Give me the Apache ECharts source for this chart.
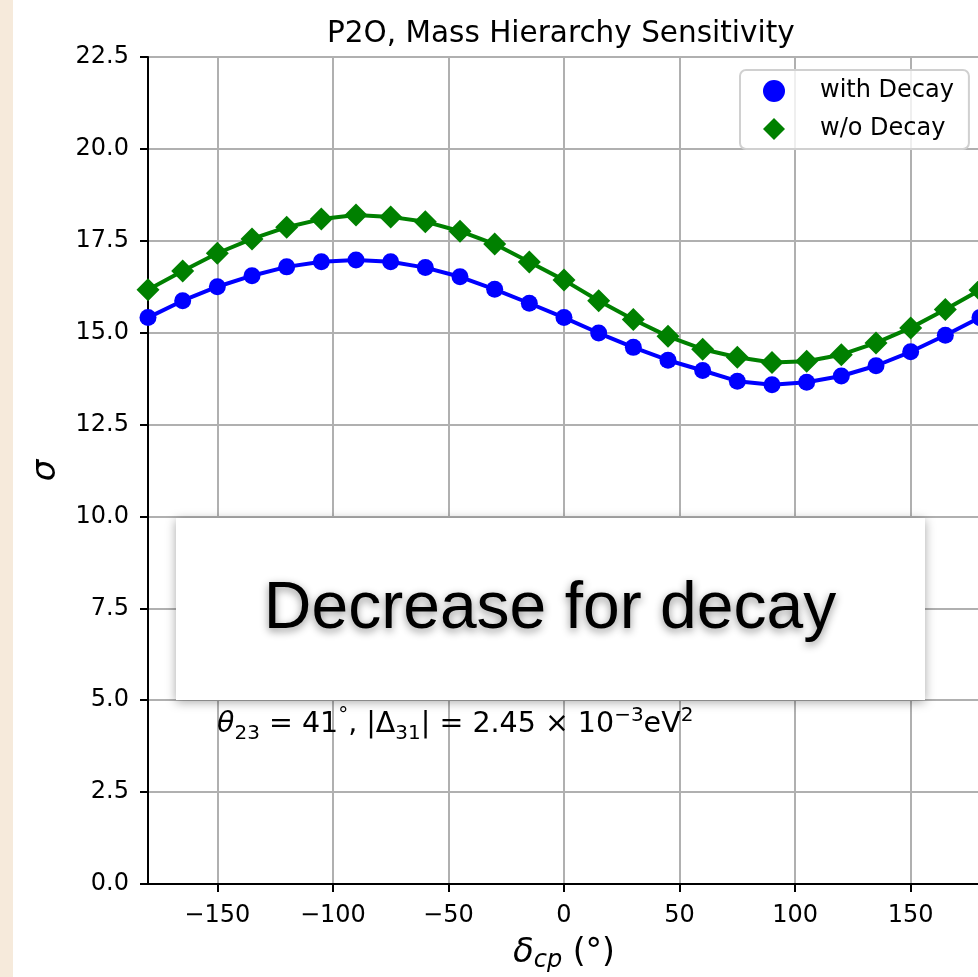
<!DOCTYPE html>
<html><head><meta charset="utf-8">
<script src="https://cdn.jsdelivr.net/npm/echarts@6/dist/echarts.min.js"></script>
<style>html,body{margin:0;padding:0;background:#fff;overflow:hidden}#c{width:978px;height:977px}</style>
</head><body><div id="c"></div>
<script>
// delta_cp (degrees)
const deltaCP = [-180,-165,-150,-135,-120,-105,-90,-75,-60,-45,-30,-15,0,15,30,45,60,75,90,105,120,135,150,165,180];
// sigma, with decay
const withDecay = [15.41,15.87,16.25,16.55,16.79,16.93,16.98,16.93,16.77,16.52,16.18,15.80,15.41,14.99,14.60,14.25,13.97,13.68,13.58,13.65,13.82,14.10,14.48,14.93,15.41];
// sigma, without decay
const withoutDecay = [16.17,16.68,17.16,17.55,17.87,18.09,18.20,18.15,18.02,17.76,17.41,16.92,16.43,15.87,15.36,14.90,14.55,14.33,14.19,14.22,14.40,14.72,15.13,15.63,16.16];
const xTicks = [-150,-100,-50,0,50,100,150];
const yMin = 0, yMax = 22.5, yStep = 2.5;
const seriesNames = ['with Decay','w/o Decay'];
const titleText = 'P2O, Mass Hierarchy Sensitivity';
const boxText = 'Decrease for decay';

const FONT = 'DejaVu Sans';
const chart = echarts.init(document.getElementById('c'), null, {renderer:'canvas'});
const pair = (xs, ys) => xs.map((x,i)=>[x, ys[i]]);
const fnt = (size, italic) => (italic ? 'italic ' : '') + size + 'px "DejaVu Sans"';

chart.setOption({
  backgroundColor: '#ffffff',
  animation: false,
  title: {
    text: titleText, left: 327, top: 19, padding: 0,
    textStyle: {fontFamily: FONT, fontSize: 29.5, fontWeight: 'normal', color: '#000'}
  },
  legend: {
    orient: 'vertical', left: 740, top: 70,
    padding: [9, 15, 8, 23],
    itemWidth: 22, itemHeight: 22, itemGap: 14,
    backgroundColor: 'rgba(255,255,255,0.8)', borderColor: '#d0d0d0', borderWidth: 2, borderRadius: 6,
    textStyle: {fontFamily: FONT, fontSize: 24, color: '#000', padding: [0,0,0,30]},
    data: [{name: seriesNames[0], icon: 'circle'}, {name: seriesNames[1], icon: 'diamond'}]
  },
  grid: {left: 148, top: 57, width: 832, height: 827, containLabel: false, outerBoundsMode: 'none',
         show: true, borderColor: '#000', borderWidth: 2, backgroundColor: 'transparent'},
  xAxis: {
    type: 'value', min: -180, max: 180, interval: 30,
    name: '{d|δ}{s|cp}{n| (°)}', nameLocation: 'middle', nameGap: 49,
    nameTextStyle: {color: '#000', rich: {
      d: {fontFamily: FONT, fontStyle: 'italic', fontSize: 34, lineHeight: 40, color:'#000'},
      s: {fontFamily: FONT, fontStyle: 'italic', fontSize: 24, lineHeight: 24, verticalAlign: 'bottom', color:'#000'},
      n: {fontFamily: FONT, fontSize: 33, lineHeight: 40, color:'#000'}
    }},
    axisLine: {show: true, onZero: false, lineStyle: {color: '#000', width: 2}},
    axisTick: {show: true, length: 8, lineStyle: {color: '#000', width: 2}, customValues: xTicks},
    axisLabel: {customValues: xTicks, margin: 20, fontFamily: FONT, fontSize: 24, color: '#000',
      formatter: v => String(v).replace('-', '\u2212')},
    splitLine: {show: true, lineStyle: {color: '#b0b0b0', width: 2}}
  },
  yAxis: {
    type: 'value', min: yMin, max: yMax, interval: yStep,
    name: 'σ', nameLocation: 'middle', nameGap: 85, nameRotate: 90,
    nameTextStyle: {fontFamily: FONT, fontStyle: 'italic', fontSize: 34, color: '#000'},
    axisLine: {show: true, onZero: false, lineStyle: {color: '#000', width: 2}},
    axisTick: {show: true, length: 8, lineStyle: {color: '#000', width: 2}},
    axisLabel: {margin: 19, fontFamily: FONT, fontSize: 24, color: '#000', formatter: v => v.toFixed(1)},
    splitLine: {show: true, lineStyle: {color: '#b0b0b0', width: 2}}
  },
  series: [
    {name: seriesNames[0], type: 'line', data: pair(deltaCP, withDecay), symbol: 'circle', symbolSize: 17,
     itemStyle: {color: '#0000ff'}, lineStyle: {color: '#0000ff', width: 4}, z: 3},
    {name: seriesNames[1], type: 'line', data: pair(deltaCP, withoutDecay), symbol: 'diamond', symbolSize: 23,
     itemStyle: {color: '#008000'}, lineStyle: {color: '#008000', width: 4}, z: 4}
  ],
  graphic: [
    {type: 'rect', left: 0, top: 0, z: 100, shape: {width: 13, height: 977}, style: {fill: '#f6eadb'}},
    {type: 'text', x: 217, y: 706, z: 50,
     style: {
       text: '{i|θ}{sub|23}{n| = 41}{sup|°}{n|, |Δ}{sub|31}{n|| = 2.45 × 10}{sup|−3}{n|eV}{sup|2}',
       font: fnt(28.5),
       rich: {
         i: {font: fnt(28.5, true), lineHeight: 38, fill: '#000'},
         n: {font: fnt(28.5), lineHeight: 38, fill: '#000'},
         sub: {font: fnt(20), lineHeight: 22, verticalAlign: 'bottom', fill: '#000'},
         sup: {font: fnt(20), lineHeight: 22, verticalAlign: 'top', fill: '#000'}
       }
     }},
    {type: 'rect', left: 176, top: 518, z: 60,
     shape: {width: 749, height: 182},
     style: {fill: '#ffffff', shadowBlur: 10, shadowColor: 'rgba(0,0,0,0.35)', shadowOffsetY: 2}},
    {type: 'text', x: 550, y: 610, z: 61,
     style: {text: boxText, font: '66px "Liberation Sans"', fill: '#000',
       align: 'center', verticalAlign: 'middle',
       textShadowBlur: 8, textShadowColor: 'rgba(0,0,0,0.45)', textShadowOffsetY: 3}}
  ]
});
</script>
</body></html>
